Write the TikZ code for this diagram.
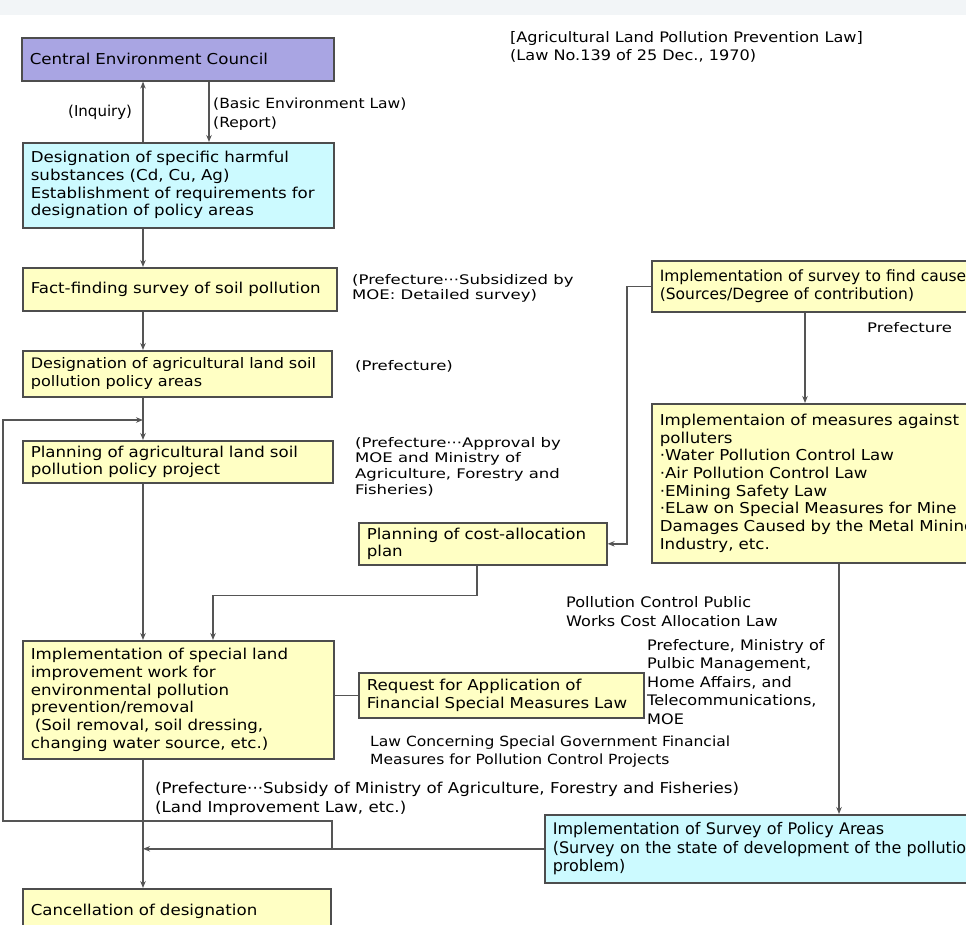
\documentclass[tikz,border=0pt]{standalone}
\usepackage{fontspec}
\setmainfont{DejaVu Sans}
\newfontfamily\widefont[FakeStretch=1.11]{DejaVu Sans}
\newfontfamily\widerfont[FakeStretch=1.25]{DejaVu Sans}
\usetikzlibrary{arrows.meta,positioning,calc}
\definecolor{councilfill}{HTML}{A9A5E3}
\definecolor{surveyfill}{HTML}{CCFAFF}
\definecolor{lawfill}{HTML}{FFFFC4}
\definecolor{edge}{HTML}{4D4D4D}
\definecolor{wire}{HTML}{555555}
\definecolor{topband}{HTML}{F2F5F7}
\tikzset{
  lawbox/.style={draw=edge, line width=1.6pt, fill=lawfill, anchor=north west,
    align=left, inner xsep=8pt, inner ysep=0pt,
    font=\widefont\fontsize{15}{17.7}\selectfont},
  councilbox/.style={lawbox, fill=councilfill},
  surveybox/.style={lawbox, fill=surveyfill},
  arr/.style={-{Stealth[length=7pt,width=5.5pt]}, line width=1.6pt, draw=wire},
  wireline/.style={line width=1.6pt, draw=wire},
  note/.style={anchor=base west, align=left, inner sep=0pt,
    font=\widefont\fontsize{14.5}{19}\selectfont},
  smallnote/.style={note, font=\widerfont\fontsize{13.2}{14.5}\selectfont}
}
\begin{document}
\begin{tikzpicture}[x=1pt,y=-1pt]
  \useasboundingbox (0,0) rectangle (966,924);
  \clip (0,0) rectangle (966,924);
  \fill[topband] (0,0) rectangle (966,15);

  % left column
  \node[councilbox, text width=296pt, minimum height=43pt] (council) at (21,37) {Central Environment Council};
  \node[surveybox, text width=295pt, minimum height=85pt] (harm) at (22,142)
    {Designation of specific harmful\\substances (Cd, Cu, Ag)\\Establishment of requirements for\\designation of policy areas};
  \node[lawbox, text width=298pt, minimum height=43pt] (fact) at (22,267) {Fact-finding survey of soil pollution};
  \node[lawbox, text width=293pt, minimum height=46pt, font=\widefont\fontsize{14.5}{17.7}\selectfont] (desig) at (22,350)
    {Designation of agricultural land soil\\pollution policy areas};
  \node[lawbox, text width=294pt, minimum height=42pt] (plan) at (22,440)
    {Planning of agricultural land soil\\pollution policy project};
  \node[lawbox, text width=295pt, minimum height=118pt] (special) at (22,640)
    {Implementation of special land\\improvement work for\\environmental pollution\\prevention/removal\\\hspace{4pt}(Soil removal, soil dressing,\\changing water source, etc.)};
  \node[lawbox, text width=292pt, minimum height=46pt] (cancel) at (22,888) {Cancellation of designation};

  % middle and right
  \node[lawbox, text width=232pt, minimum height=42pt] (cost) at (358,522)
    {Planning of cost-allocation\\plan};
  \node[lawbox, text width=269pt, minimum height=45pt] (request) at (358,672)
    {Request for Application of\\Financial Special Measures Law};
  \node[lawbox, text width=420pt, minimum height=51pt, font=\fontsize{15.5}{17.7}\selectfont] (cause) at (651,260)
    {Implementation of survey to find causes\\(Sources/Degree of contribution)};
  \node[lawbox, text width=420pt, minimum height=159pt] (measures) at (651,403)
    {Implementaion of measures against\\polluters\\·Water Pollution Control Law\\·Air Pollution Control Law\\·EMining Safety Law\\·ELaw on Special Measures for Mine\\Damages Caused by the Metal Mining\\Industry, etc.};
  \node[surveybox, text width=480pt, minimum height=68pt, font=\fontsize{16}{18.5}\selectfont] (policy) at (544,814)
    {Implementation of Survey of Policy Areas\\(Survey on the state of development of the pollution\\problem)};

  % notes (placed at the baseline of their last line)
  \node[note, font=\widefont\fontsize{14.5}{18}\selectfont] (header) at (510,60)
    {[Agricultural Land Pollution Prevention Law]\\(Law No.139 of 25 Dec., 1970)};
  \node[note, font=\fontsize{15}{19}\selectfont] (inquirytxt) at (68,116) {(Inquiry)};
  \node[note, font=\widefont\fontsize{14}{19.5}\selectfont] (reporttxt) at (213,127.5) {(Basic Environment Law)\\(Report)};
  \node[smallnote] (surveytxt) at (352,299) {(Prefecture···Subsidized by\\MOE: Detailed survey)};
  \node[smallnote] (desigtxt) at (355,370) {(Prefecture)};
  \node[smallnote, font=\widerfont\fontsize{13.2}{15.8}\selectfont] (approvaltxt) at (355,494.5)
    {(Prefecture···Approval by\\MOE and Ministry of\\Agriculture, Forestry and\\Fisheries)};
  \node[smallnote] (causetxt) at (867,332) {Prefecture};
  \node[note] (costlaw) at (566,626) {Pollution Control Public\\Works Cost Allocation Law};
  \node[note, font=\widefont\fontsize{14.5}{18.5}\selectfont] (ministries) at (647,724)
    {Prefecture, Ministry of\\Pulbic Management,\\Home Affairs, and\\Telecommunications,\\MOE};
  \node[note, font=\widefont\fontsize{14}{18}\selectfont] (finlaw) at (370,764)
    {Law Concerning Special Government Financial\\Measures for Pollution Control Projects};
  \node[note, font=\widefont\fontsize{15}{19}\selectfont] (subsidy) at (155,812)
    {(Prefecture···Subsidy of Ministry of Agriculture, Forestry and Fisheries)\\(Land Improvement Law, etc.)};

  % connector columns
  \coordinate (spine) at (143,0);
  \coordinate (report) at (209,0);
  \coordinate (specialin) at (213,0);
  \coordinate (costdrop) at (477,0);
  \coordinate (causedrop) at (805,0);
  \coordinate (measdrop) at (839,0);
  \coordinate (loopR) at (332,821);
  \coordinate (loopL) at (3,821);
  \coordinate (loopT) at (143,420);

  \draw[arr] (harm.north -| spine) -- (council.south -| spine);
  \draw[arr] (council.south -| report) -- (harm.north -| report);
  \draw[arr] (harm.south -| spine) -- (fact.north -| spine);
  \draw[arr] (fact.south -| spine) -- (desig.north -| spine);
  \draw[arr] (desig.south -| spine) -- (plan.north -| spine);
  \draw[arr] (plan.south -| spine) -- (special.north -| spine);
  \draw[arr] (special.south -| spine) -- (cancel.north -| spine);
  \draw[arr] (cause.west) -- ++(-24,0) |- (cost.east);
  \draw[arr] (cause.south -| causedrop) -- (measures.north -| causedrop);
  \draw[arr] (cost.south -| costdrop) -- ++(0,30) -| (special.north -| specialin);
  \draw[wireline] (special.east |- request.west) -- (request.west);
  \draw[arr] (measures.south -| measdrop) -- (policy.north -| measdrop);
  \draw[arr] (policy.west) -- (policy.west -| spine);
  \draw[arr] (policy.west -| loopR) -- (loopR) -- (loopL) |- (loopT);
\end{tikzpicture}
\end{document}
